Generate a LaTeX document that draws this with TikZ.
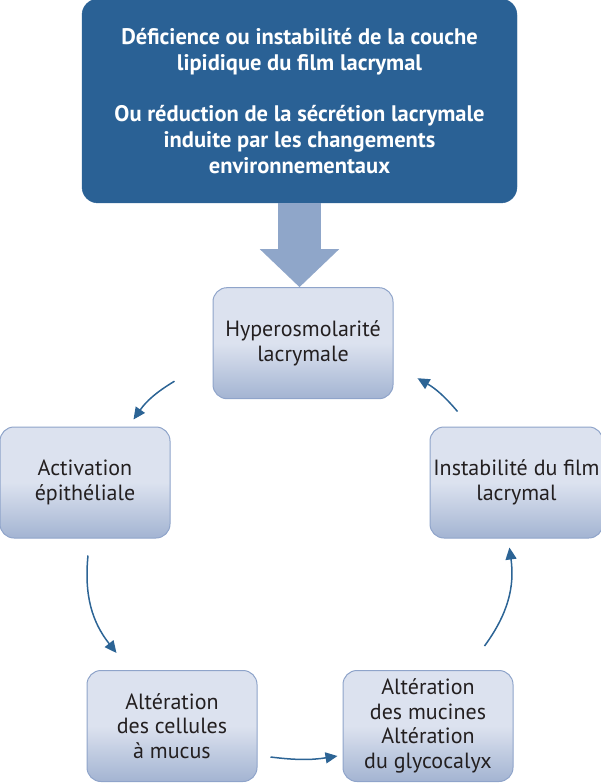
\documentclass[tikz,border=0pt]{standalone}
\usepackage{fontspec}
\setmainfont{PT Sans}
\usepackage{xcolor}
\usepackage{tikz}
\usetikzlibrary{arrows.meta, positioning}
\definecolor{CauseBlue}{HTML}{2A6195}
\definecolor{ArrowBlue}{HTML}{8FA6C9}
\definecolor{LoopBlue}{HTML}{2C6495}
\definecolor{StageBorder}{HTML}{8FA4CA}
\definecolor{StageTop}{HTML}{DCE2EF}
\definecolor{StageBottom}{HTML}{A3B4D2}
\definecolor{DarkText}{HTML}{231F20}

\begin{document}
\begin{tikzpicture}[
    x=1pt, y=1pt,
    cause/.style={
        rectangle, rounded corners=16pt, draw=CauseBlue, fill=CauseBlue,
        minimum width=435pt, minimum height=204pt, align=center,
        text=white, font=\fontsize{22.5}{26}\selectfont\bfseries
    },
    stage/.style={
        rectangle, rounded corners=14pt, draw=StageBorder, line width=1pt,
        top color=StageTop, bottom color=StageBottom, middle color=StageTop,
        minimum width=170pt, minimum height=111pt, align=center,
        text=DarkText, font=\fontsize{22}{24.5}\selectfont
    },
    loop arrow/.style={
        -{Triangle[length=12pt,width=11pt]}, line width=1.5pt, draw=LoopBlue
    },
    big arrow/.style={
        -{Triangle[length=38pt,width=77pt]}, line width=43pt, draw=ArrowBlue
    }
]
    \useasboundingbox (0,0) rectangle (600,-783);

    % Cause
    \node[cause] (cause) at (299.5,-101) {D\'eficience ou instabilit\'e de la couche\\
        lipidique du film lacrymal\\[25pt]
        Ou r\'eduction de la s\'ecr\'etion lacrymale\\
        induite par les changements\\
        environnementaux};

    % Cycle
    \node[stage, minimum width=180pt, below=84pt of cause, xshift=3.5pt] (hyper) {Hyperosmolarit\'e\\lacrymale};
    \node[stage] (activ) at (85,-482.5) {Activation\\\'epith\'eliale};
    \node[stage, right=259pt of activ] (instab) {Instabilit\'e du film\\lacrymal};
    \node[stage] (cells) at (172,-726) {Alt\'eration\\des cellules\\\`a mucus};
    \node[stage, right=85pt of cells] (mucin) {Alt\'eration\\des mucines\\Alt\'eration\\du glycocalyx};

    % Links
    \draw[big arrow] (cause.south) -- (cause.south |- hyper.north);

    \draw[loop arrow] ([xshift=-38pt,yshift=18pt]hyper.south west) to[bend right=12] ([xshift=-37pt,yshift=7pt]activ.north east);
    \draw[loop arrow] ([xshift=3pt,yshift=-17pt]activ.south) to[bend right=22] ([xshift=30pt,yshift=17pt]cells.north west);
    \draw[loop arrow] ([xshift=13pt,yshift=25pt]cells.south east) to[bend right=8] ([xshift=-5pt,yshift=26pt]mucin.south west);
    \draw[loop arrow] ([xshift=-29pt,yshift=24pt]mucin.north east) to[bend right=22] ([xshift=-7pt,yshift=-9pt]instab.south);
    \draw[loop arrow] ([xshift=28pt,yshift=15pt]instab.north west) to[bend right=10] ([xshift=24pt,yshift=21pt]hyper.south east);

\end{tikzpicture}
\end{document}
